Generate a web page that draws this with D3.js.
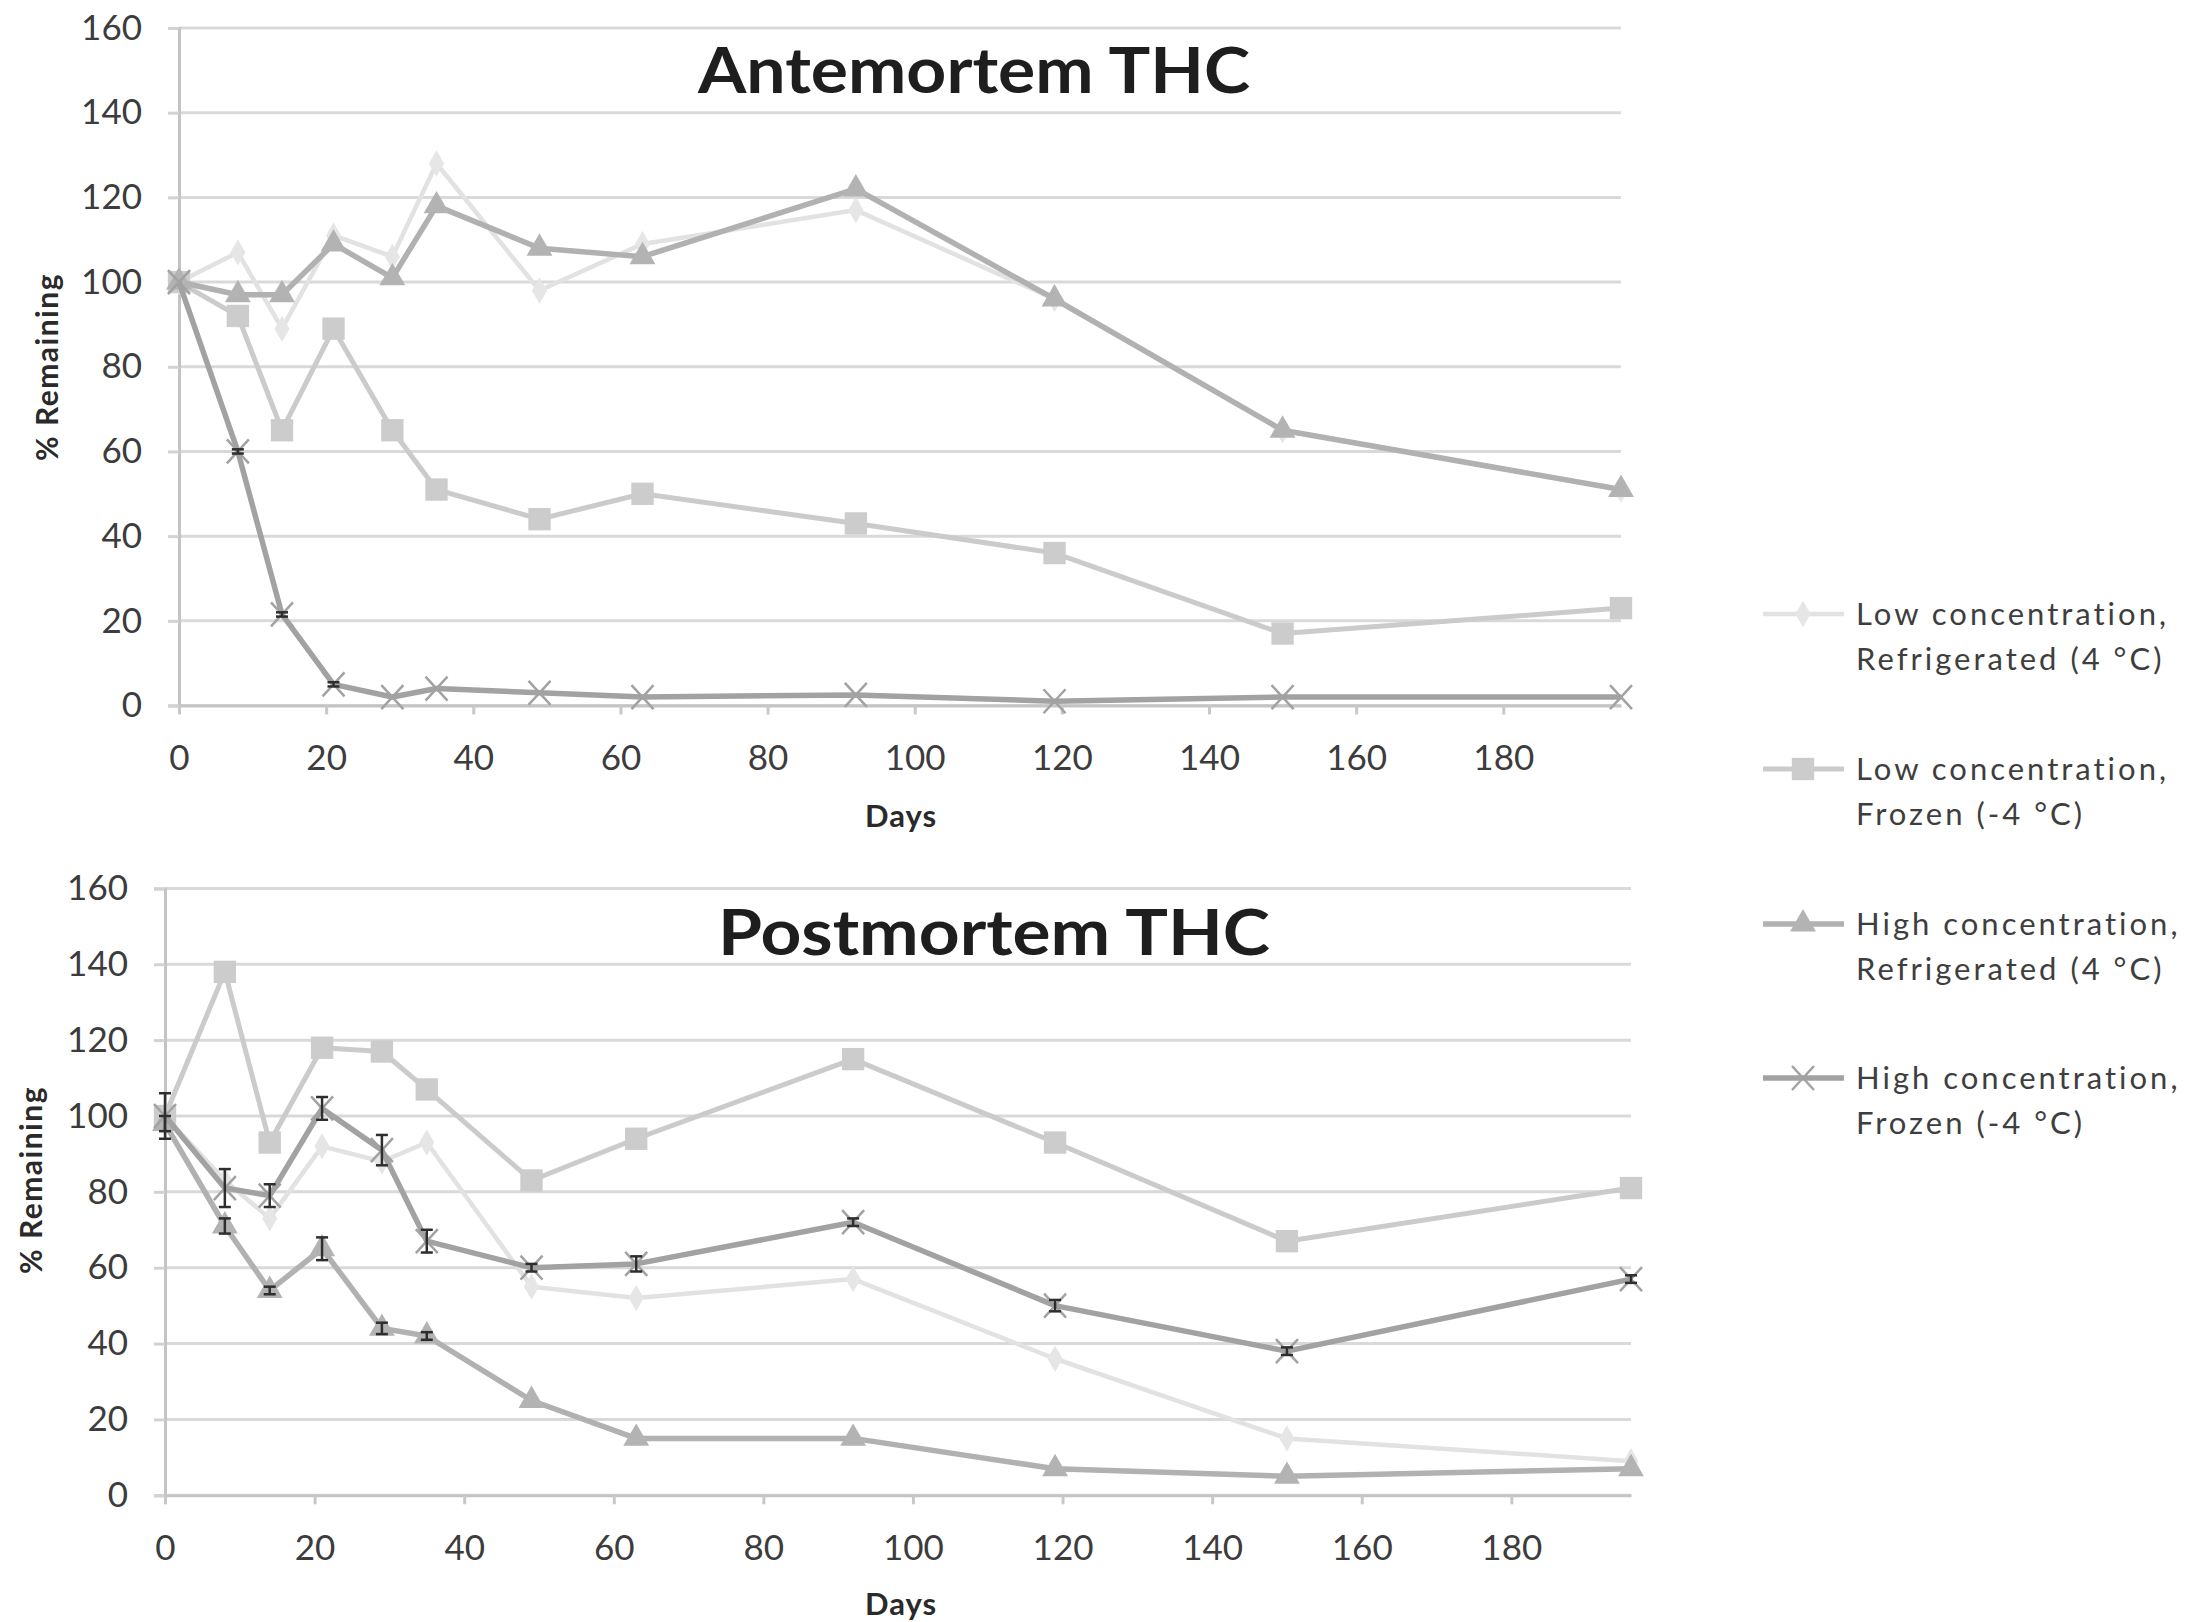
<!DOCTYPE html>
<html>
<head>
<meta charset="utf-8">
<script src="https://cdn.jsdelivr.net/npm/d3@7"></script>
<style>
  body { margin: 0; background: #fff; }
  svg { display: block; font-family: Lato, 'Open Sans', sans-serif; }
</style>
</head>
<body>
<svg width="2208" height="1622"></svg>
<script>
// sampling days (x) and axis ticks
var days = [0, 8, 14, 21, 29, 35, 49, 63, 92, 119, 150, 196];
var xTicks = [0, 20, 40, 60, 80, 100, 120, 140, 160, 180];
var yTicks = [0, 20, 40, 60, 80, 100, 120, 140, 160];

var seriesLabels = [
  ['Low concentration,', 'Refrigerated (4 \u00b0C)'],
  ['Low concentration,', 'Frozen (-4 \u00b0C)'],
  ['High concentration,', 'Refrigerated (4 \u00b0C)'],
  ['High concentration,', 'Frozen (-4 \u00b0C)']
];

// Antemortem THC, % remaining
var anteLowRefrig  = [100, 107, 89, 111, 106, 128, 98, 109, 117, 96, 65, 51];
var anteLowFrozen  = [100, 92, 65, 89, 65, 51, 44, 50, 43, 36, 17, 23];
var anteHighRefrig = [100, 97, 97, 109, 101, 118, 108, 106, 122, 96, 65, 51];
var anteHighFrozen = [100, 60, 21.5, 5, 2, 4, 3, 2, 2.5, 1, 2, 2];
var anteHighFrozenErr = [0, 0.5, 0.5, 0.5, 0, 0, 0, 0, 0, 0, 0, 0];

// Postmortem THC, % remaining
var postLowRefrig  = [100, 83, 73, 92, 88, 93, 55, 52, 57, 36, 15, 9];
var postLowFrozen  = [100, 138, 93, 118, 117, 107, 83, 94, 115, 93, 67, 81];
var postHighRefrig = [98, 71, 54, 65, 44, 42, 25, 15, 15, 7, 5, 7];
var postHighRefrigErr = [2, 2, 1, 3, 1.5, 1, 0, 0, 0, 0, 0, 0];
var postHighFrozen = [100, 81, 79, 102, 91, 67, 60, 61, 72, 50, 38, 57];
var postHighFrozenErr = [6, 5, 3, 3, 4, 3, 1, 2, 1, 1.5, 1, 1];

var styles = [
  { stroke: '#e2e2e2', fill: '#e6e6e6', marker: 'diamond', width: 4.5 },
  { stroke: '#cbcbcb', fill: '#cccccc', marker: 'square', width: 5 },
  { stroke: '#b1b1b1', fill: '#b3b3b3', marker: 'triangle', width: 5.5 },
  { stroke: '#a2a2a2', fill: 'none', marker: 'x', width: 5.5 }
];

var svg = d3.select('svg');

const markerPath = function(type) {
  if (type == 'diamond') return d3.symbol().type(d3.symbolDiamond).size(200)();
  if (type == 'square') return d3.symbol().type(d3.symbolSquare).size(500)();
  if (type == 'triangle') return d3.symbol().type(d3.symbolTriangle).size(290)();
  return 'M-11,-12L11,12M-11,12L11,-12';
};

const drawMarker = function(g, type, style, x, y) {
  g.append('path')
    .attr('d', markerPath(type))
    .attr('transform', 'translate(' + x + ',' + y + ')')
    .attr('fill', type == 'x' ? 'none' : style.fill)
    .attr('stroke', type == 'x' ? style.stroke : 'none')
    .attr('stroke-width', type == 'x' ? 2.5 : 0);
};

const drawPanel = function(p) {
  var x = d3.scaleLinear().domain([0, 196]).range([p.left, p.right]);
  var y = d3.scaleLinear().domain([0, 160]).range([p.bottom, p.top]);
  var g = svg.append('g');

  // gridlines
  g.selectAll('.grid')
      .data(yTicks)
    .enter().append('line')
      .attr('x1', p.left).attr('x2', p.right)
      .attr('y1', function(d) { return y(d); })
      .attr('y2', function(d) { return y(d); })
      .attr('stroke', '#d9d9d9')
      .attr('stroke-width', 3);

  // y axis
  var yAxis = g.append('g')
    .attr('transform', 'translate(' + p.left + ',0)')
    .call(d3.axisLeft(y).tickValues(yTicks).tickSize(11).tickPadding(26));
  yAxis.select('.domain').attr('stroke', '#c4c4c4').attr('stroke-width', 3);
  yAxis.selectAll('.tick line').attr('stroke', '#d2d2d2').attr('stroke-width', 3);
  yAxis.selectAll('.tick text')
    .attr('font-size', 35).attr('fill', '#3c3c3c').attr('font-family', 'Lato, sans-serif');

  // x axis
  var xAxis = g.append('g')
    .attr('transform', 'translate(0,' + p.bottom + ')')
    .call(d3.axisBottom(x).tickValues(xTicks).tickSize(9).tickPadding(31).tickSizeOuter(0));
  xAxis.select('.domain').attr('stroke', '#c4c4c4').attr('stroke-width', 3);
  xAxis.selectAll('.tick line').attr('stroke', '#c8c8c8').attr('stroke-width', 3);
  xAxis.selectAll('.tick text')
    .attr('font-size', 35).attr('fill', '#3c3c3c').attr('font-family', 'Lato, sans-serif');

  // series
  var line = d3.line()
    .x(function(d, i) { return x(days[i]); })
    .y(function(d) { return y(d); });

  p.series.forEach(function(values, s) {
    var st = styles[s];
    g.append('path')
      .attr('d', line(values))
      .attr('fill', 'none')
      .attr('stroke', st.stroke)
      .attr('stroke-width', st.width)
      .attr('stroke-linejoin', 'round');
    values.forEach(function(v, i) {
      drawMarker(g, st.marker, st, x(days[i]), y(v));
    });
  });

  // error bars
  p.errors.forEach(function(e) {
    e.err.forEach(function(d, i) {
      if (!d) return;
      var cx = x(days[i]);
      var v = p.series[e.series][i];
      var eg = g.append('g').attr('stroke', '#2e2e2e').attr('stroke-width', 2.5);
      eg.append('line').attr('x1', cx).attr('x2', cx).attr('y1', y(v - d)).attr('y2', y(v + d));
      eg.append('line').attr('x1', cx - 6).attr('x2', cx + 6).attr('y1', y(v + d)).attr('y2', y(v + d));
      eg.append('line').attr('x1', cx - 6).attr('x2', cx + 6).attr('y1', y(v - d)).attr('y2', y(v - d));
    });
  });

  // titles
  g.append('text')
    .text(p.title)
    .attr('x', p.titleX).attr('y', p.titleY)
    .attr('text-anchor', 'middle')
    .attr('font-size', 64).attr('font-weight', 'bold').attr('fill', '#1e1e1e')
    .attr('textLength', 552).attr('lengthAdjust', 'spacingAndGlyphs');

  g.append('text')
    .text('Days')
    .attr('x', p.daysX).attr('y', p.daysY)
    .attr('text-anchor', 'middle')
    .attr('font-size', 31).attr('font-weight', 'bold').attr('fill', '#2a2a2a')
    .attr('letter-spacing', 1);

  g.append('text')
    .text('% Remaining')
    .attr('transform', 'translate(' + p.yTitleX + ',' + p.yTitleY + ') rotate(-90)')
    .attr('text-anchor', 'middle')
    .attr('font-size', 30).attr('font-weight', 'bold').attr('fill', '#2a2a2a')
    .attr('letter-spacing', 1.5);
};

drawPanel({
  left: 179, right: 1621, top: 28, bottom: 705.5,
  title: 'Antemortem THC', titleX: 974, titleY: 93,
  daysX: 901, daysY: 827, yTitleX: 58, yTitleY: 367,
  series: [anteLowRefrig, anteLowFrozen, anteHighRefrig, anteHighFrozen],
  errors: [{ series: 3, err: anteHighFrozenErr }]
});

drawPanel({
  left: 165, right: 1631, top: 888.4, bottom: 1495.3,
  title: 'Postmortem THC', titleX: 994, titleY: 955,
  daysX: 901, daysY: 1615, yTitleX: 42, yTitleY: 1180,
  series: [postLowRefrig, postLowFrozen, postHighRefrig, postHighFrozen],
  errors: [{ series: 2, err: postHighRefrigErr }, { series: 3, err: postHighFrozenErr }]
});

// legend
var legendY = [614, 769, 924, 1078];
var legend = svg.append('g');
seriesLabels.forEach(function(lines, i) {
  var st = styles[i];
  var ly = legendY[i];
  legend.append('line')
    .attr('x1', 1763).attr('x2', 1844).attr('y1', ly).attr('y2', ly)
    .attr('stroke', st.stroke).attr('stroke-width', st.width);
  drawMarker(legend, st.marker, st, 1803, ly);
  lines.forEach(function(t, k) {
    legend.append('text')
      .text(t)
      .attr('x', 1856).attr('y', ly + 11 + k * 45)
      .attr('font-size', 31).attr('fill', '#3e3e3e')
      .attr('letter-spacing', 3);
  });
});
</script>
</body>
</html>
